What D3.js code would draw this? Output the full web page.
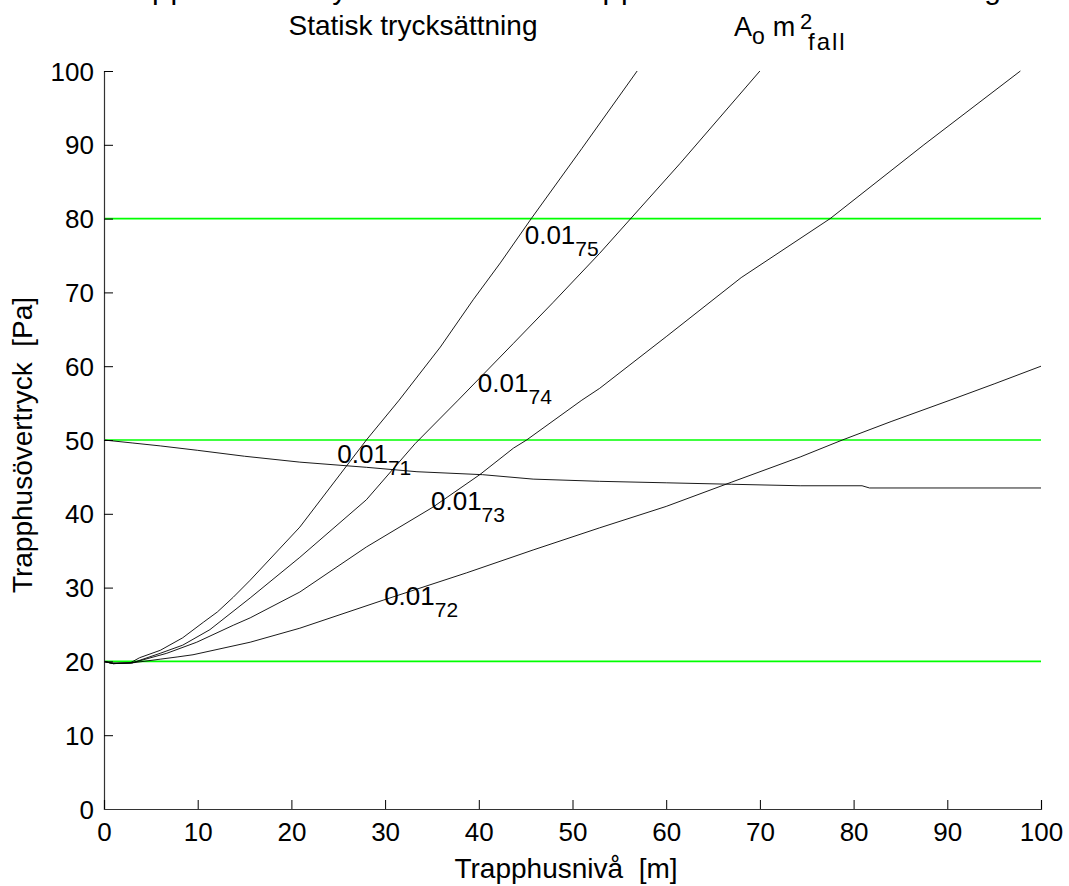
<!DOCTYPE html>
<html><head><meta charset="utf-8">
<script src="https://cdn.jsdelivr.net/npm/d3@7"></script>
<style>body{margin:0;background:#fff}svg text{font-family:"Liberation Sans",Arial,Helvetica,sans-serif;fill:#000}</style>
</head><body>
<svg id="chart" width="1069" height="886"></svg>
<script>
// ---- data ----
const xTicks = [0,10,20,30,40,50,60,70,80,90,100];
const yTicks = [0,10,20,30,40,50,60,70,80,90,100];
const refLevels = [20,50,80];

const c75X = [0,0.6,2.8,3.8,6.0,8.4,10.6,12.1,13.8,15.6,20.9,28.0,31.5,35.9,39.4,42.3,45.6,51,56.9];
const c75Y = [20,19.8,19.8,20.5,21.5,23.2,25.3,26.7,28.7,31.0,38.2,50,55.4,62.6,69.0,74,80,89.5,100];

const c74X = [0,1,3,6,8.4,11.3,15.6,20.9,28,33.2,37.8,43.7,47.9,52.9,61.5,70];
const c74Y = [20,19.7,19.8,21.1,22.2,24.3,28.6,34.1,41.9,49.5,55.4,63.1,68.6,75.3,87.5,100];

const c73X = [0,1,3,6.7,9.9,13.8,15.6,20.9,28,35.1,40.1,43.7,45.1,51,52.9,60,68,77.5,87.5,97.8];
const c73Y = [20,19.7,19.8,21.1,22.6,24.9,25.9,29.4,35.5,40.9,45.3,48.9,50,55.4,57,64,72,80,90,100];

const c72X = [0,1,3,6,7.8,9.5,15.6,20.9,29.8,38.7,45.8,52.9,60,67,74.3,78.8,84,90.3,95,100];
const c72Y = [20,19.7,19.8,20.3,20.6,20.9,22.6,24.5,28.3,32.0,35.1,38.1,41,44.3,47.7,50,52.5,55.4,57.6,60];

const c71X = [0,3,6,10,15,20.9,28,33.4,40.4,45.8,52.9,60,67,74.3,80.9,81.7,100];
const c71Y = [50,49.6,49.2,48.6,47.8,47.0,46.3,45.7,45.3,44.7,44.4,44.2,44.0,43.8,43.8,43.5,43.5];

const seriesLabels = ["71","72","73","74","75"];
const labelMain = "0.01";
// label anchor (data coords) for each series
const labelX = [24.9, 29.9, 34.9, 39.9, 44.9];
const labelY = [46.9, 27.6, 40.5, 56.5, 76.5];

const topLine = "Trapphusövertryck för ett helt trapphus med total luftläckage"; // cut off at top edge (guessed)
const titleText = "Statisk trycksättning";
const xLabel = "Trapphusnivå\u00a0\u00a0[m]";
const yLabel = "Trapphusövertryck\u00a0\u00a0[Pa]";

// ---- layout ----
const svg = d3.select("#chart");
const x = d3.scaleLinear().domain([0,100]).range([104,1041]);
const y = d3.scaleLinear().domain([0,100]).range([809,71]);

// reference green lines
svg.selectAll("line.ref").data(refLevels).enter().append("line")
  .attr("x1", x(0)).attr("x2", x(100))
  .attr("y1", d=>y(d)).attr("y2", d=>y(d))
  .attr("stroke","#00ff00").attr("stroke-width",1.6);

const series = [[c71X,c71Y],[c72X,c72Y],[c73X,c73Y],[c74X,c74Y],[c75X,c75Y]];
const line = d3.line().x(d=>x(d[0])).y(d=>y(d[1]));
series.forEach(([xs,ys])=>{
  svg.append("path").datum(xs.map((v,i)=>[v,ys[i]]))
    .attr("d",line).attr("fill","none").attr("stroke","#000").attr("stroke-width",0.9);
});

// axes
const fs = 26;
const yAxis = d3.axisLeft(y).tickValues(yTicks).tickSize(-9).tickPadding(10).tickFormat(d3.format("d"));
const xAxis = d3.axisBottom(x).tickValues(xTicks).tickSize(-9).tickPadding(14).tickFormat(d3.format("d"));
const gy = svg.append("g").attr("transform",`translate(${x(0)},0)`).call(yAxis);
const gx = svg.append("g").attr("transform",`translate(0,${y(0)})`).call(xAxis);
[gy,gx].forEach(g=>{
  g.select(".domain").attr("stroke","#333").attr("stroke-width",1.2);
  g.selectAll(".tick line").attr("stroke","#000");
  g.selectAll(".tick text").attr("font-size",fs).attr("font-family","Liberation Sans, Arial, sans-serif").attr("fill","#000");
});
gy.selectAll(".tick text").attr("dy","0.35em");
gx.selectAll(".tick text").attr("dy","0.71em");

// series labels
seriesLabels.forEach((s,i)=>{
  const t = svg.append("text").attr("x",x(labelX[i])).attr("y",y(labelY[i])).attr("font-size",26);
  t.append("tspan").text(labelMain);
  t.append("tspan").attr("dy",12).attr("font-size",21).text(s);
});

// cut-off first title line (only descenders visible)
svg.append("text").attr("x",102).attr("y",-1).attr("font-size",30).attr("letter-spacing",2).text(topLine);

// title pieces
svg.append("text").attr("x",413).attr("y",35).attr("text-anchor","middle").attr("font-size",28).text(titleText);
const ao = svg.append("text").attr("x",734).attr("y",36).attr("font-size",27);
ao.append("tspan").text("A");
ao.append("tspan").attr("dy",8).attr("font-size",23).text("o");
ao.append("tspan").attr("dy",-8).attr("dx",8).text("m");
svg.append("text").attr("x",800).attr("y",29).attr("font-size",22).text("2");
svg.append("text").attr("x",808).attr("y",50).attr("font-size",24).attr("letter-spacing",2).text("fall");

// axis labels
svg.append("text").attr("x",566).attr("y",878).attr("text-anchor","middle").attr("font-size",28).text(xLabel);
svg.append("text").attr("transform","translate(32,445) rotate(-90)").attr("text-anchor","middle").attr("font-size",28).text(yLabel);
</script>
</body></html>
